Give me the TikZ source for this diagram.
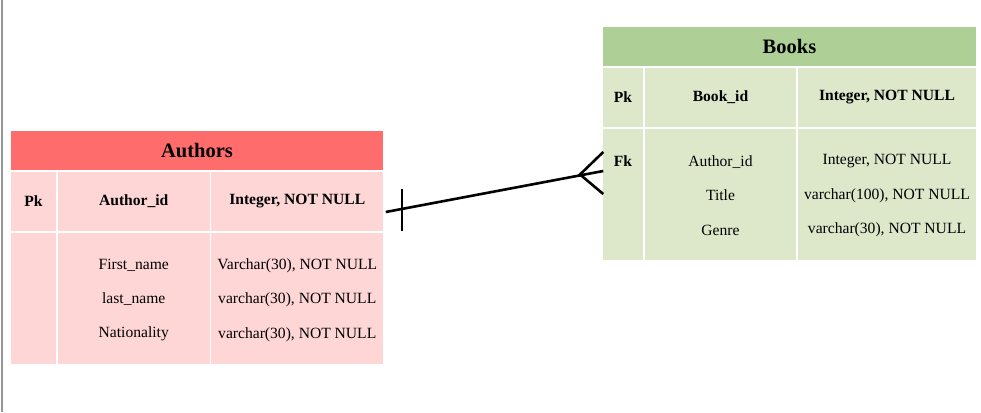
\documentclass[tikz,border=0pt]{standalone}
\usepackage{fontspec}
\setmainfont{Liberation Serif}
\usetikzlibrary{calc}
\definecolor{ahead}{RGB}{255,108,108}
\definecolor{abody}{RGB}{255,214,214}
\definecolor{bhead}{RGB}{174,208,150}
\definecolor{bbody}{RGB}{221,232,202}
\definecolor{edge}{RGB}{150,150,150}
\begin{document}
\begin{tikzpicture}[x=1pt,y=-1pt,
  cell/.style={rectangle,draw=white,line width=1.5pt,inner sep=0pt,align=center},
  txt/.style={inner sep=0pt,align=center,font=\fontsize{15.6}{34.3}\selectfont},
  title/.style={font=\fontsize{20.5}{24}\selectfont\bfseries},
  hd/.style={font=\fontsize{15.6}{18}\selectfont\bfseries},
  conn/.style={line width=2.6pt,black}]
\useasboundingbox (0,0) rectangle (981,412);
\fill[white] (0,0) rectangle (981,412);
\draw[edge,line width=2pt] (1.5,0) -- (1.5,412);
% Authors
\node[cell,fill=ahead,minimum width=374pt,minimum height=41pt,title] (ah) at (197,150.5) {Authors};
\node[cell,fill=abody,minimum width=47pt,minimum height=61pt,hd] (apk) at (33.5,201.5) {Pk};
\node[cell,fill=abody,minimum width=153.5pt,minimum height=61pt,hd] (aid) at (133.75,201.5) {Author\_id};
\node[cell,fill=abody,minimum width=173.5pt,minimum height=61pt,hd] (atype) at (297.25,201.5) {Integer, NOT NULL};
\node[cell,fill=abody,minimum width=47pt,minimum height=133pt] (ak2) at (33.5,298.5) {};
\node[cell,fill=abody,minimum width=153.5pt,minimum height=133pt] (anames) at (133.75,298.5) {};
\node[cell,fill=abody,minimum width=173.5pt,minimum height=133pt] (atypes) at (297.25,298.5) {};
\node[txt] (anamestxt) at ($(anames.center)+(0,1.5)$) {First\_name\\last\_name\\Nationality};
\node[txt] (atypestxt) at ($(atypes.center)+(0,1.5)$) {Varchar(30), NOT NULL\\varchar(30), NOT NULL\\varchar(30), NOT NULL};
% Books
\node[cell,fill=bhead,minimum width=375pt,minimum height=41pt,title] (bh) at (789.5,46.5) {Books};
\node[cell,fill=bbody,minimum width=42pt,minimum height=61pt,hd] (bpk) at (623,97.5) {Pk};
\node[cell,fill=bbody,minimum width=153pt,minimum height=61pt,hd] (bid) at (720.5,97.5) {Book\_id};
\node[cell,fill=bbody,minimum width=180pt,minimum height=61pt,hd] (btype) at (887,97.5) {Integer, NOT NULL};
\node[cell,fill=bbody,minimum width=42pt,minimum height=133pt] (bk2) at (623,194.5) {};
\node[cell,fill=bbody,minimum width=153pt,minimum height=133pt] (bnames) at (720.5,194.5) {};
\node[cell,fill=bbody,minimum width=180pt,minimum height=133pt] (btypes) at (887,194.5) {};
\node[txt] (bnamestxt) at ($(bnames.center)+(0,1)$) {Author\_id\\Title\\Genre};
\node[txt] (btypestxt) at ($(btypes.center)+(0,1)$) {Integer, NOT NULL\\varchar(100), NOT NULL\\varchar(30), NOT NULL};
\node[hd,inner sep=0pt] (fk) at (623,161) {Fk};
% connector
\coordinate (s) at ($(atype.east)+(1,10.5)$);
\coordinate (e) at ($(bk2.west)+(2,-23.5)$);
\coordinate (crow) at (580,174.5);
\coordinate (t1) at ($(bk2.west)+(2,-42.5)$);
\coordinate (t3) at ($(bk2.west)+(2,-0.5)$);
\coordinate (b1) at (402,189);
\coordinate (b2) at (402,231);
\draw[conn] (s) -- (e);
\draw[conn] (t1) -- (crow) -- (t3);
\draw[conn] (b1) -- (b2);
\end{tikzpicture}
\end{document}
